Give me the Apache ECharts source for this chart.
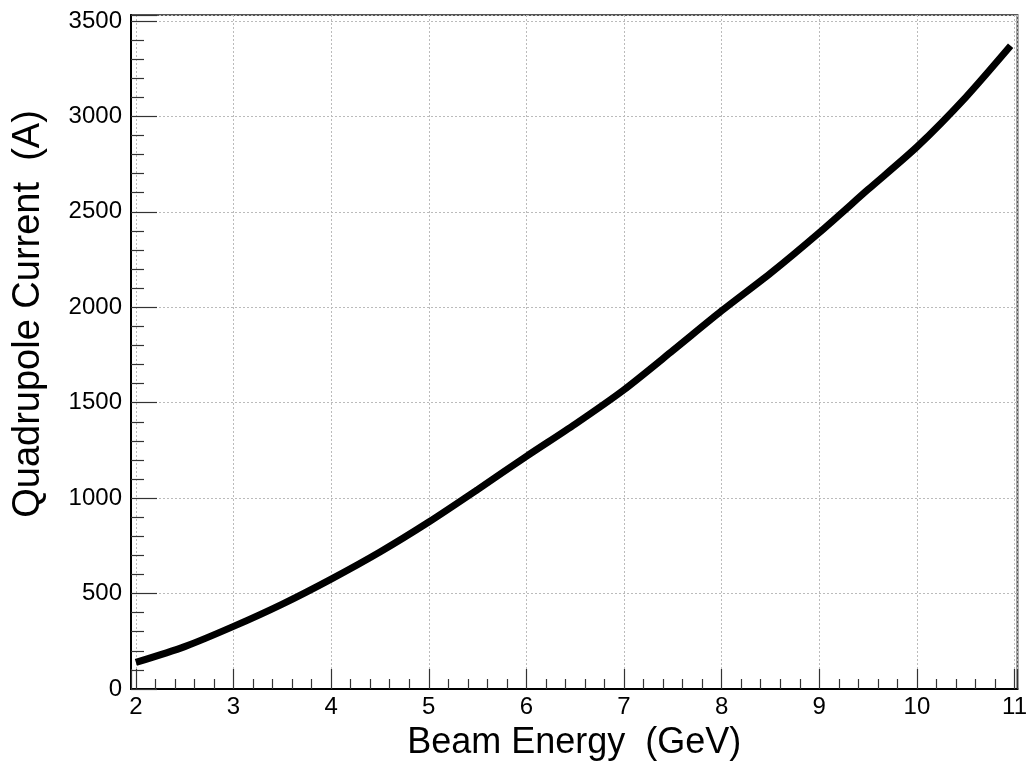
<!DOCTYPE html>
<html>
<head>
<meta charset="utf-8">
<script src="https://cdn.jsdelivr.net/npm/echarts@6/dist/echarts.min.js"></script>
<style>
  html, body { margin: 0; padding: 0; background: #fff; }
  #chart { width: 1030px; height: 772px; }
</style>
</head>
<body>
<div id="chart"></div>
<script>
// Beam energy (GeV)
const beamEnergy = [2, 2.5, 3, 3.5, 4, 4.5, 5, 5.5, 6, 6.5, 7, 7.5, 8, 8.5, 9, 9.5, 10, 10.5, 10.96];
// Quadrupole current (A)
const quadCurrent = [139, 222, 328, 445, 576, 718, 875, 1045, 1219, 1388, 1568, 1773, 1981, 2178, 2391, 2617, 2840, 3100, 3370];

const xTitle = 'Beam Energy  (GeV)';
const yTitle = 'Quadrupole Current  (A)';

const points = beamEnergy.map((x, i) => [x, quadCurrent[i]]);

const fontFam = '"Liberation Sans", Arial, Helvetica, sans-serif';

const chart = echarts.init(document.getElementById('chart'), null, { renderer: 'canvas' });
chart.setOption({
  animation: false,
  backgroundColor: '#ffffff',
  grid: {
    left: 131, right: 9, top: 15, bottom: 83,
    show: true, borderColor: '#555', borderWidth: 2,
    containLabel: false
  },
  xAxis: {
    type: 'value',
    min: 1.95, max: 11.03,
    splitNumber: 9,
    name: xTitle,
    nameLocation: 'middle',
    nameGap: 36,
    nameTextStyle: { fontFamily: fontFam, fontSize: 36, color: '#000' },
    axisLine: { show: true, onZero: false, lineStyle: { color: '#000', width: 2 } },
    axisTick: { show: true, inside: true, length: 20, lineStyle: { color: '#333', width: 1.2 } },
    minorTick: { show: true, splitNumber: 5, length: 10, lineStyle: { color: '#333', width: 1.2 } },
    axisLabel: { show: true, showMinLabel: false, showMaxLabel: false, margin: 6, fontFamily: fontFam, fontSize: 24, color: '#000',
      formatter: v => String(v) },
    splitLine: { show: true, lineStyle: { color: '#bbb', width: 1, type: [2, 2] } }
  },
  yAxis: {
    type: 'value',
    min: 0, max: 3531,
    splitNumber: 7,
    name: yTitle,
    nameLocation: 'middle',
    nameGap: 83,
    nameTextStyle: { fontFamily: fontFam, fontSize: 38, color: '#000', padding: [0, 0, 0, 76] },
    axisLine: { show: true, onZero: false, lineStyle: { color: '#000', width: 2 } },
    axisTick: { show: true, inside: true, length: 26, lineStyle: { color: '#333', width: 1.2 } },
    minorTick: { show: true, splitNumber: 5, length: 13, lineStyle: { color: '#333', width: 1.2 } },
    axisLabel: { show: true, showMaxLabel: false, margin: 9, fontFamily: fontFam, fontSize: 24, color: '#000',
      formatter: v => String(v) },
    splitLine: { show: true, lineStyle: { color: '#bbb', width: 1, type: [2, 2] } }
  },
  series: [{
    type: 'line',
    data: points,
    showSymbol: false,
    smooth: 0.25,
    lineStyle: { color: '#000', width: 7, cap: 'butt' },
    z: 3
  }]
});
</script>
</body>
</html>
